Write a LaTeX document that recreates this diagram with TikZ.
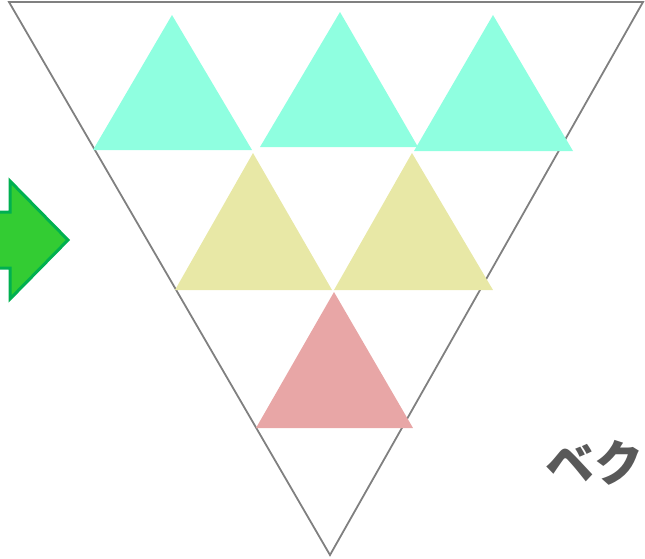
\documentclass[tikz,border=0pt]{standalone}
\usepackage{fontspec}
\newfontfamily\cjk{Noto Sans CJK JP}
\definecolor{tcyan}{HTML}{8FFFE0}
\definecolor{tyel}{HTML}{E8E8A6}
\definecolor{tpink}{HTML}{E8A6A6}
\definecolor{agreen}{HTML}{33CC33}
\definecolor{aedge}{HTML}{00B050}
\definecolor{tgray}{HTML}{595959}
\begin{document}
\begin{tikzpicture}[x=1pt,y=-1pt,
  outline/.style={draw=gray, line width=1.8pt, line join=miter}]
\useasboundingbox (0,0) rectangle (645,558);
\clip (0,0) rectangle (645,558);
% big triangle
\coordinate (A) at (9,2);
\coordinate (B) at (643,2);
\coordinate (C) at (330,555);
\draw[outline] (A) -- (B) -- (C) -- cycle;
% row 1
\fill[tcyan] (172,15) -- (252,150) -- (93,150) -- cycle;
\fill[tcyan] (340,12) -- (418,147) -- (260,147) -- cycle;
\fill[tcyan] (493,15) -- (573,151) -- (414,151) -- cycle;
% row 2
\fill[tyel] (253,153) -- (332,290) -- (175,290) -- cycle;
\fill[tyel] (412,153) -- (493,290) -- (334,290) -- cycle;
% row 3
\fill[tpink] (334,292) -- (413,428) -- (256,428) -- cycle;
% arrow
\draw[fill=agreen, draw=aedge, line width=3pt, line join=miter]
  (-10,212) -- (10,212) -- (10,181) -- (68,240) -- (10,299) -- (10,268) -- (-10,268) -- cycle;
% text
\node[anchor=west, inner sep=0pt, text=tgray, font=\cjk\bfseries\fontsize{49}{49}\selectfont] (t) at (545,463) {ベク};
\end{tikzpicture}
\end{document}
